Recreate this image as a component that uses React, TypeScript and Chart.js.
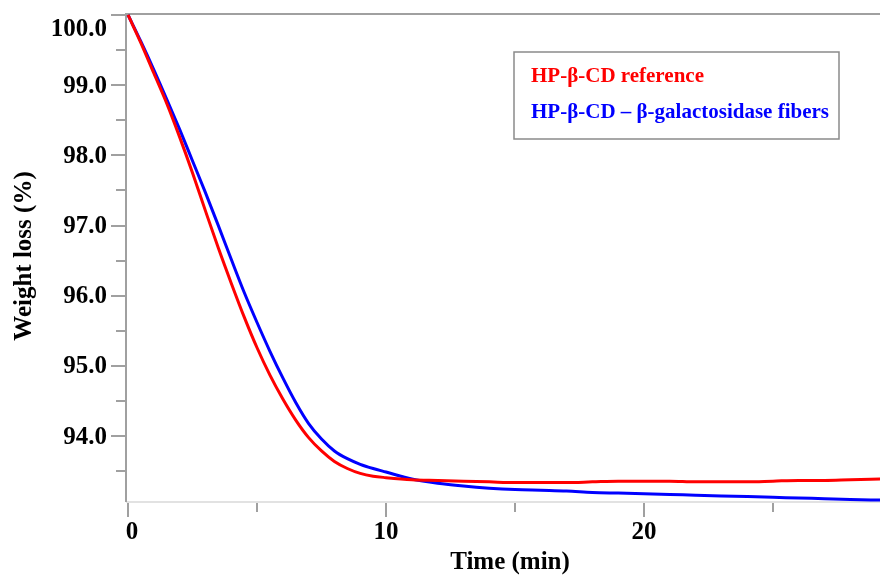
import React, { useEffect, useRef } from "react";
import { Chart, registerables } from "chart.js";

Chart.register(...registerables);

// ---- data ----
const timeMin = [
  0, 0.5, 1, 1.5, 2, 2.5, 3, 3.5, 4, 4.5, 5, 5.5, 6, 6.5, 7, 7.5, 8, 8.5, 9, 9.5,
  10, 11, 12, 13, 14, 15, 16, 17, 18, 19, 20, 21, 22, 23, 24, 25, 26, 27, 28, 29.2,
];
const referenceValues = [
  100.0, 99.6, 99.17, 98.74, 98.26, 97.75, 97.21, 96.68, 96.18, 95.7, 95.26, 94.87, 94.53, 94.23,
  93.98, 93.79, 93.64, 93.54, 93.47, 93.43, 93.41, 93.38, 93.37, 93.36, 93.35, 93.34, 93.34, 93.34,
  93.35, 93.36, 93.36, 93.36, 93.35, 93.35, 93.35, 93.36, 93.37, 93.37, 93.38, 93.39,
];
const fiberValues = [
  100.0, 99.62, 99.22, 98.8, 98.37, 97.92, 97.47, 97.0, 96.52, 96.05, 95.62, 95.21, 94.83, 94.48,
  94.18, 93.96, 93.79, 93.68, 93.6, 93.54, 93.49, 93.39, 93.33, 93.29, 93.26, 93.24, 93.23, 93.22,
  93.2, 93.19, 93.18, 93.17, 93.16, 93.15, 93.14, 93.13, 93.12, 93.11, 93.1, 93.09,
];
const seriesLabels = ["HP-β-CD reference", "HP-β-CD – β-galactosidase fibers"];
const seriesColors = ["#ff0000", "#0000ff"];
const yMajorTicks = [94, 95, 96, 97, 98, 99, 100];
const yMinorTicks = [93.5, 94.5, 95.5, 96.5, 97.5, 98.5, 99.5];
const xMajorTicks = [0, 10, 20];
const xMinorTicks = [5, 15, 25];
const xTitle = "Time (min)";
const yTitle = "Weight loss (%)";

const FONT = '"Liberation Serif", "Times New Roman", serif';

const axesPlugin = {
  id: "customAxes",
  beforeDatasetsDraw(chart: any) {
    const { ctx, chartArea } = chart;
    const { left, right, top, bottom } = chartArea;
    ctx.save();
    ctx.strokeStyle = "#e2e2e2";
    ctx.lineWidth = 2;
    ctx.beginPath();
    ctx.moveTo(left, bottom);
    ctx.lineTo(right, bottom);
    ctx.stroke();
    ctx.strokeStyle = "#a0a0a0";
    ctx.beginPath();
    ctx.moveTo(left - 1, top);
    ctx.lineTo(right, top);
    ctx.stroke();
    ctx.beginPath();
    ctx.moveTo(left, top - 1);
    ctx.lineTo(left, bottom);
    ctx.stroke();
    ctx.restore();
  },
  afterDraw(chart: any) {
    const { ctx, chartArea } = chart;
    const { left, bottom } = chartArea;
    const xs = chart.scales.x;
    const ys = chart.scales.y;
    ctx.save();
    ctx.strokeStyle = "#a0a0a0";
    ctx.lineWidth = 2;
    yMajorTicks.forEach((v) => {
      const py = Math.round(ys.getPixelForValue(v));
      ctx.beginPath();
      ctx.moveTo(left - 15, py);
      ctx.lineTo(left, py);
      ctx.stroke();
    });
    yMinorTicks.forEach((v) => {
      const py = Math.round(ys.getPixelForValue(v));
      ctx.beginPath();
      ctx.moveTo(left - 10, py);
      ctx.lineTo(left, py);
      ctx.stroke();
    });
    xMajorTicks.forEach((v) => {
      const px = Math.round(xs.getPixelForValue(v));
      ctx.beginPath();
      ctx.moveTo(px, bottom + 1);
      ctx.lineTo(px, bottom + 15);
      ctx.stroke();
    });
    xMinorTicks.forEach((v) => {
      const px = Math.round(xs.getPixelForValue(v));
      ctx.beginPath();
      ctx.moveTo(px, bottom + 1);
      ctx.lineTo(px, bottom + 10);
      ctx.stroke();
    });
    ctx.fillStyle = "#000";
    ctx.font = `bold 25px ${FONT}`;
    ctx.textAlign = "right";
    ctx.textBaseline = "middle";
    yMajorTicks.forEach((v) => {
      const py = ys.getPixelForValue(v);
      ctx.fillText(v.toFixed(1), left - 19, Math.max(py + 1, 30));
    });
    ctx.textAlign = "center";
    xMajorTicks.forEach((v) => {
      const px = xs.getPixelForValue(v);
      ctx.fillText(String(v), px + (v === 0 ? 4 : 0), bottom + 31);
    });
    ctx.fillText(xTitle, 510, bottom + 61);
    ctx.save();
    ctx.translate(25, 256);
    ctx.rotate(-Math.PI / 2);
    ctx.fillText(yTitle, 0, 0);
    ctx.restore();
    ctx.fillStyle = "#fff";
    ctx.fillRect(514, 52, 325, 87);
    ctx.strokeStyle = "#8a8a8a";
    ctx.lineWidth = 1.5;
    ctx.strokeRect(514, 52, 325, 87);
    ctx.font = `bold 21px ${FONT}`;
    ctx.textAlign = "left";
    ctx.textBaseline = "middle";
    chart.data.datasets.forEach((ds: any, i: number) => {
      ctx.fillStyle = ds.borderColor;
      ctx.fillText(ds.label, 531, 77 + i * 36);
    });
    ctx.restore();
  },
};

export default function App() {
  const canvasRef = useRef<HTMLCanvasElement | null>(null);

  useEffect(() => {
    const canvas = canvasRef.current;
    if (!canvas) return;
    const datasets = [referenceValues, fiberValues].map((vals, i) => ({
      label: seriesLabels[i],
      data: timeMin.map((t, j) => ({ x: t, y: vals[j] })),
      borderColor: seriesColors[i],
      backgroundColor: seriesColors[i],
      borderWidth: 3,
      pointRadius: 0,
      cubicInterpolationMode: "monotone" as const,
      fill: false,
    }));
    const chart = new Chart(canvas, {
      type: "line",
      data: { datasets },
      options: {
        responsive: false,
        animation: false,
        layout: { padding: { left: 126, top: 14, right: 0, bottom: 73 } },
        plugins: { legend: { display: false }, tooltip: { enabled: false } },
        scales: {
          x: { type: "linear", min: -0.08, max: 29.15, display: false },
          y: { type: "linear", min: 93.063, max: 100.014, display: false },
        },
      },
      plugins: [axesPlugin],
    });
    return () => chart.destroy();
  }, []);

  return (
    <div style={{ position: "absolute", left: 0, top: 0, width: 880, height: 575, background: "#fff" }}>
      <canvas ref={canvasRef} width={880} height={575} />
    </div>
  );
}
